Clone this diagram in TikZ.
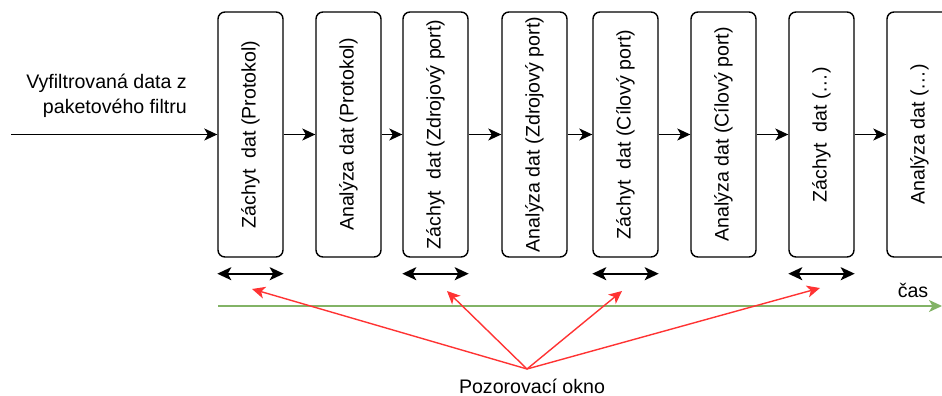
\documentclass[tikz,border=0pt]{standalone}
\usepackage{fontspec}
\setmainfont{Liberation Sans}
\usetikzlibrary{arrows.meta}
\definecolor{timegreen}{HTML}{82B366}
\definecolor{pointred}{HTML}{FF3333}
\begin{document}
\begin{tikzpicture}[x=1pt,y=-1pt,
  font=\fontsize{19.6}{24.5}\selectfont,
  stage/.style={draw, line width=1.4pt, rounded corners=7pt,
    minimum width=65pt, minimum height=245pt, inner sep=0pt},
  flow/.style={line width=1.4pt, -{Stealth[length=13pt,width=12pt,inset=3.5pt]}},
  window/.style={line width=2pt, {Stealth[length=14pt,width=13pt,inset=3.5pt]}-{Stealth[length=14pt,width=13pt,inset=3.5pt]}},
  pointer/.style={draw=pointred, line width=1.4pt, -{Stealth[length=13pt,width=12pt,inset=3.5pt,fill=pointred]}},
  timeline/.style={draw=timegreen, line width=1.6pt, -{Stealth[length=13pt,width=12pt,inset=3.5pt,fill=timegreen]}},
  caption/.style={inner sep=0pt}
]
\useasboundingbox (0,0) rectangle (942,396);
\clip (0,0) rectangle (942,396);

% processing stages
\node[stage] (b1) at (250.5,134.5) {\rotatebox{90}{Záchyt\ \ dat (Protokol)}};
\node[stage] (b2) at (348.5,134.5) {\rotatebox{90}{Analýza dat (Protokol)}};
\node[stage] (b3) at (435.5,134.5) {\rotatebox{90}{Záchyt\ \ dat (Zdrojový port)}};
\node[stage] (b4) at (534.5,134.5) {\rotatebox{90}{Analýza dat (Zdrojový port)}};
\node[stage] (b5) at (625.5,134.5) {\rotatebox{90}{Záchyt\ \ dat (Cílový port)}};
\node[stage] (b6) at (723.5,134.5) {\rotatebox{90}{Analýza dat (Cílový port)}};
\node[stage] (b7) at (821.5,134.5) {\rotatebox{90}{Záchyt\ \ dat (…)}};
\node[stage] (b8) at (919.5,134.5) {\rotatebox{90}{Analýza dat (…)}};

% input
\coordinate (src) at (11,134.5);
\node[caption, align=right, anchor=east] (inlabel) at (187,96) {Vyfiltrovaná data z\\paketového filtru};
\draw[flow] (src) -- (b1.west);

% flow between stages
\foreach \a/\b in {b1/b2,b2/b3,b3/b4,b4/b5,b5/b6,b6/b7,b7/b8}
  \draw[flow] (\a.east) -- (\b.west);

% observation windows
\foreach \s in {b1,b3,b5,b7}
  \draw[window] ([yshift=-16pt]\s.south west) -- ([yshift=-16pt]\s.south east);

% time axis
\coordinate (t0) at (218,306);
\coordinate (t1) at (942,306);
\draw[timeline] (t0) -- (t1);
\node[caption] (cas) at (913,290) {čas};

% observation window pointers
\coordinate (eye) at (527,369);
\coordinate (p1) at (252,289);
\coordinate (p2) at (447,291);
\coordinate (p3) at (622,291);
\coordinate (p4) at (820,288);
\node[caption] (okno) at (532,386) {Pozorovací okno};
\foreach \p in {p1,p2,p3,p4}
  \draw[pointer] (eye) -- (\p);
\end{tikzpicture}
\end{document}
